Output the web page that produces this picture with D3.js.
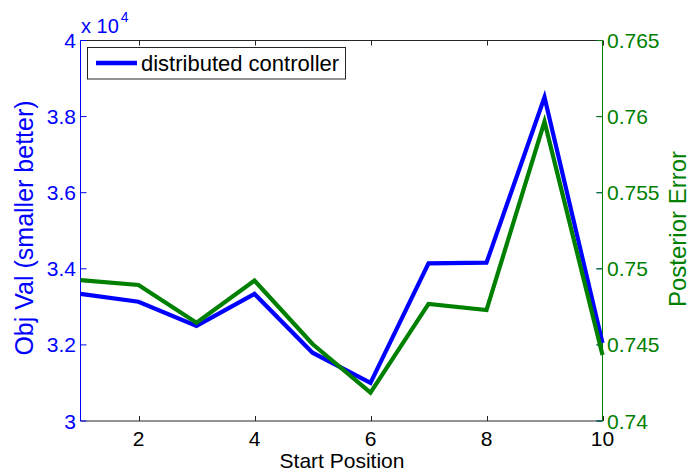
<!DOCTYPE html>
<html>
<head>
<meta charset="utf-8">
<script src="https://cdn.jsdelivr.net/npm/d3@7"></script>
<style>
  html, body { margin: 0; padding: 0; background: #fff; }
  svg { display: block; font-family: "Liberation Sans", Arial, sans-serif; }
</style>
</head>
<body>
<svg id="chart" width="690" height="472"></svg>
<script>
// Start positions and the two measured series
const startPositions = [1, 2, 3, 4, 5, 6, 7, 8, 9, 10];
const objVal = [33340, 33135, 32500, 33340, 31795, 31000, 34145, 34160, 38510, 32050];
const posteriorError = [0.74926, 0.74894, 0.74646, 0.74922, 0.74506, 0.74186, 0.74769, 0.74729, 0.75967, 0.74434];

// Tick values
const xTicks = [2, 4, 6, 8, 10];
const leftTicks = [30000, 32000, 34000, 36000, 38000, 40000];
const rightTicks = [0.74, 0.745, 0.75, 0.755, 0.76, 0.765];

const BLUE = "#0000ff";
const GREEN = "#008000";
const DARK = "#262626";

const svg = d3.select("#chart");
const plotLeft = 80.5, plotRight = 602.5, plotTop = 40.5, plotBottom = 421;

const x = d3.scaleLinear().domain([1, 10]).range([plotLeft, plotRight]);
const yL = d3.scaleLinear().domain([30000, 40000]).range([plotBottom, plotTop]);
const yR = d3.scaleLinear().domain([0.74, 0.765]).range([plotBottom, plotTop]);

// Top and bottom frame lines with inward ticks
svg.append("line").attr("x1", plotLeft).attr("x2", plotRight).attr("y1", plotTop).attr("y2", plotTop)
  .attr("stroke", DARK).attr("stroke-width", 1);
svg.append("line").attr("x1", plotLeft).attr("x2", plotRight).attr("y1", plotBottom).attr("y2", plotBottom)
  .attr("stroke", DARK).attr("stroke-width", 1.2);

const xt = svg.append("g");
xTicks.forEach(t => {
  const px = Math.round(x(t)) + 0.5;
  xt.append("line").attr("x1", px).attr("x2", px).attr("y1", plotBottom).attr("y2", plotBottom - 5)
    .attr("stroke", DARK);
  xt.append("line").attr("x1", px).attr("x2", px).attr("y1", plotTop).attr("y2", plotTop + 5)
    .attr("stroke", DARK);
  xt.append("text").attr("x", x(t)).attr("y", 446).attr("text-anchor", "middle")
    .attr("font-size", 21).attr("fill", "#000").text(t);
});

// Left axis (objective value)
svg.append("line").attr("x1", plotLeft).attr("x2", plotLeft).attr("y1", plotTop).attr("y2", plotBottom)
  .attr("stroke", BLUE).attr("stroke-width", 1);
leftTicks.forEach(t => {
  const py = yL(t);
  svg.append("line").attr("x1", plotLeft).attr("x2", plotLeft + 6).attr("y1", py).attr("y2", py)
    .attr("stroke", BLUE);
  svg.append("line").attr("x1", plotRight - 6).attr("x2", plotRight).attr("y1", py).attr("y2", py)
    .attr("stroke", BLUE);
  svg.append("text").attr("x", 76).attr("y", py).attr("dy", "0.36em")
    .attr("text-anchor", "end").attr("font-size", 21).attr("fill", BLUE)
    .text(d3.format("")(t / 10000));
});

// Exponent note
const expo = svg.append("text").attr("x", 81).attr("y", 33).attr("fill", BLUE).attr("font-size", 20);
expo.append("tspan").text("x 10");
expo.append("tspan").attr("dy", -11).attr("dx", 2).attr("font-size", 14).text("4");

// Right axis (posterior error)
svg.append("line").attr("x1", plotRight).attr("x2", plotRight).attr("y1", plotTop).attr("y2", plotBottom)
  .attr("stroke", GREEN).attr("stroke-width", 1);
rightTicks.forEach(t => {
  const py = yR(t);
  svg.append("line").attr("x1", plotRight - 6).attr("x2", plotRight).attr("y1", py).attr("y2", py)
    .attr("stroke", GREEN);
  svg.append("text").attr("x", 607).attr("y", py).attr("dy", "0.36em")
    .attr("text-anchor", "start").attr("font-size", 21).attr("fill", GREEN)
    .text(d3.format("")(t));
});

// Series lines
const lineL = d3.line().x((d, i) => x(startPositions[i])).y(d => yL(d));
const lineR = d3.line().x((d, i) => x(startPositions[i])).y(d => yR(d));

svg.append("path").datum(objVal).attr("d", lineL)
  .attr("fill", "none").attr("stroke", BLUE).attr("stroke-width", 4.2)
  .attr("stroke-linejoin", "miter");
svg.append("path").datum(posteriorError).attr("d", lineR)
  .attr("fill", "none").attr("stroke", GREEN).attr("stroke-width", 4.2)
  .attr("stroke-linejoin", "miter");

// Axis titles
svg.append("text").attr("x", 342).attr("y", 468).attr("text-anchor", "middle")
  .attr("font-size", 21).attr("fill", "#000").text("Start Position");
svg.append("text").attr("transform", "translate(33,228) rotate(-90)")
  .attr("text-anchor", "middle").attr("font-size", 25).attr("fill", BLUE)
  .text("Obj Val (smaller better)");
svg.append("text").attr("transform", "translate(686,229) rotate(-90)")
  .attr("text-anchor", "middle").attr("font-size", 24).attr("fill", GREEN)
  .text("Posterior Error");

// Legend
const lg = svg.append("g");
lg.append("rect").attr("x", 87.5).attr("y", 47.5).attr("width", 258).attr("height", 31.5)
  .attr("fill", "#fff").attr("stroke", DARK).attr("stroke-width", 1);
lg.append("line").attr("x1", 96).attr("x2", 137).attr("y1", 63).attr("y2", 63)
  .attr("stroke", BLUE).attr("stroke-width", 4.5);
lg.append("text").attr("x", 141).attr("y", 71).attr("font-size", 22).attr("fill", "#000")
  .text("distributed controller");
</script>
</body>
</html>
